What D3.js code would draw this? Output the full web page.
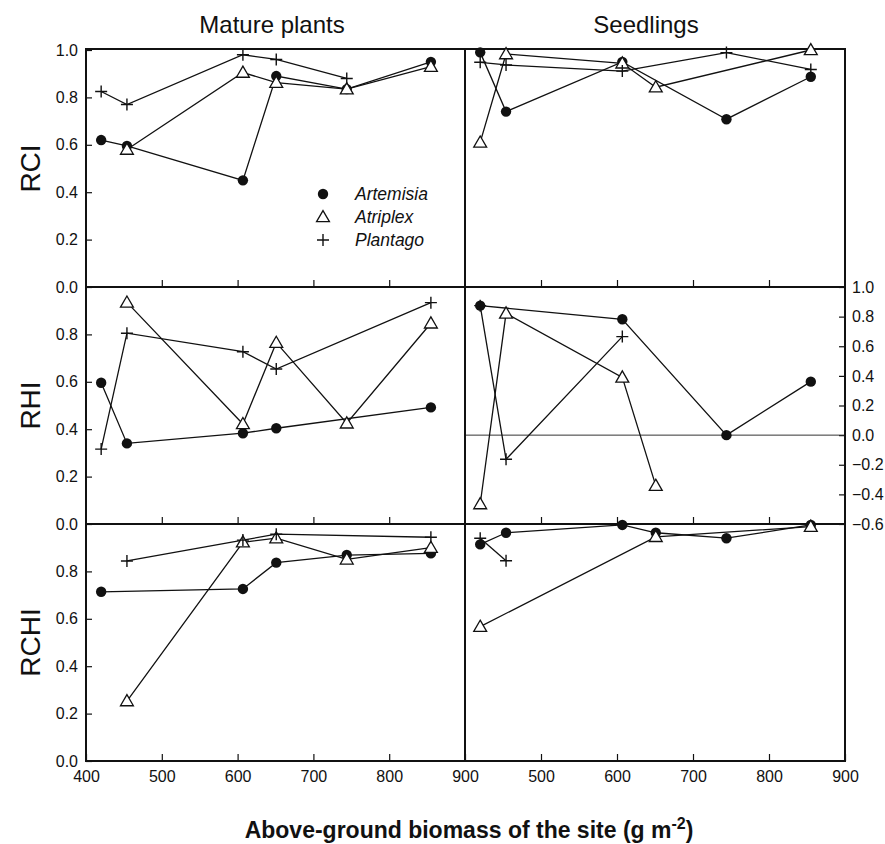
<!DOCTYPE html>
<html>
<head>
	<title>RCI, RHI, RCHI</title>
	<meta charset='utf-8'>
	<style>
		body {
			margin: 0;
			background: #fff;
		}

		svg text {
			font-family: 'Liberation Sans', Arial, sans-serif;
			fill: #111;
		}

		.frame {
			fill: none;
			stroke: #111;
			stroke-width: 2px;
		}

		.zero-line {
			stroke: #333;
			stroke-width: 1px;
		}

		.series {
			fill: none;
			stroke: #111;
			stroke-width: 1.3px;
		}

		.tick > line {
			stroke: #111;
			stroke-width: 1.2px;
		}

		.tick > text {
			font-size: 16px;
		}

		.axis__x .tick > text {
			font-size: 16px;
		}

		.axis path.domain {
			stroke-width: 0;
		}

		.m-circle {
			fill: #111;
		}

		.m-triangle {
			fill: #fff;
			stroke: #111;
			stroke-width: 1.3px;
		}

		.m-plus {
			fill: none;
			stroke: #111;
			stroke-width: 1.4px;
		}
	</style>
</head>
<body>
<div id="chart"></div>
<script src='https://cdnjs.cloudflare.com/ajax/libs/d3/7.8.5/d3.min.js'></script>
<script>
	'use strict';

	// site biomass, g m-2 (same six sites in every panel)
	const sites = [420, 454, 607, 651, 744, 855];
	const speciesNames = ['Artemisia', 'Atriplex', 'Plantago'];

	// RCI
	const rciMatureArtemisia = [0.62, 0.595, 0.45, 0.89, 0.835, 0.95];
	const rciMatureAtriplex = [null, 0.58, 0.905, 0.862, 0.835, 0.93];
	const rciMaturePlantago = [0.825, 0.77, 0.98, 0.96, 0.88, null];
	const rciSeedArtemisia = [0.99, 0.74, 0.95, null, 0.708, 0.887];
	const rciSeedAtriplex = [0.61, 0.983, 0.944, 0.843, null, 1.0];
	const rciSeedPlantago = [0.948, 0.937, 0.911, null, 0.989, 0.918];

	// RHI
	const rhiMatureArtemisia = [0.596, 0.34, 0.383, 0.404, null, 0.492];
	const rhiMatureAtriplex = [null, 0.935, 0.422, 0.765, 0.425, 0.847];
	const rhiMaturePlantago = [0.316, 0.805, 0.727, 0.654, null, 0.934];
	const rhiSeedArtemisia = [0.874, null, 0.782, null, 0.0, 0.361];
	const rhiSeedAtriplex = [-0.465, 0.822, 0.39, -0.341, null, null];
	const rhiSeedPlantago = [0.874, -0.163, 0.665, null, null, null];

	// RCHI
	const rchiMatureArtemisia = [0.714, null, 0.726, 0.837, 0.869, 0.876];
	const rchiMatureAtriplex = [null, 0.253, 0.923, 0.94, 0.851, 0.9];
	const rchiMaturePlantago = [null, 0.844, 0.932, 0.957, null, 0.944];
	const rchiSeedArtemisia = [0.914, 0.963, 0.996, 0.963, 0.94, 0.996];
	const rchiSeedAtriplex = [0.567, null, null, 0.946, null, 0.989];
	const rchiSeedPlantago = [0.94, 0.845, null, null, null, null];

	const leftTicks = [0, 0.2, 0.4, 0.6, 0.8];
	const rightTicks = [-0.6, -0.4, -0.2, 0, 0.2, 0.4, 0.6, 0.8, 1.0];
	const xTicks = [400, 500, 600, 700, 800, 900];

	const rowTitles = ['RCI', 'RHI', 'RCHI'];
	const columnTitles = ['Mature plants', 'Seedlings'];

	const width = 885;
	const height = 844;
	const plotLeft = 86;
	const plotMid = 465;
	const plotRight = 845;
	const rowTops = [50, 287, 524];
	const rowHeight = 237;

	const svg = d3.select('div#chart').append('svg')
		.attr('width', width)
		.attr('height', height);

	const xScales = [
		d3.scaleLinear().domain([400, 900]).range([plotLeft, plotMid]),
		d3.scaleLinear().domain([400, 900]).range([plotMid, plotRight])
	];

	const panels = [
		{row: 0, col: 0, domain: [0, 1], series: [rciMatureArtemisia, rciMatureAtriplex, rciMaturePlantago]},
		{row: 0, col: 1, domain: [0, 1], series: [rciSeedArtemisia, rciSeedAtriplex, rciSeedPlantago]},
		{row: 1, col: 0, domain: [0, 1], series: [rhiMatureArtemisia, rhiMatureAtriplex, rhiMaturePlantago]},
		{row: 1, col: 1, domain: [-0.6, 1], series: [rhiSeedArtemisia, rhiSeedAtriplex, rhiSeedPlantago]},
		{row: 2, col: 0, domain: [0, 1], series: [rchiMatureArtemisia, rchiMatureAtriplex, rchiMaturePlantago]},
		{row: 2, col: 1, domain: [0, 1], series: [rchiSeedArtemisia, rchiSeedAtriplex, rchiSeedPlantago]}
	];

	const triangle = d3.symbol().type(d3.symbolTriangle).size(72);

	function drawMarker(g, kind, x, y) {
		if (kind === 0) {
			g.append('circle').attr('class', 'm-circle')
				.attr('cx', x).attr('cy', y).attr('r', 5.2);
		} else if (kind === 1) {
			g.append('path').attr('class', 'm-triangle')
				.attr('transform', 'translate(' + x + ',' + (y + 1) + ')')
				.attr('d', triangle);
		} else {
			g.append('path').attr('class', 'm-plus')
				.attr('d', 'M' + (x - 6) + ',' + y + 'H' + (x + 6) + 'M' + x + ',' + (y - 6) + 'V' + (y + 6));
		}
	}

	// y axes on the left (one per row)
	rowTitles.forEach((title, row) => {
		const y = d3.scaleLinear().domain([0, 1]).range([rowTops[row] + rowHeight, rowTops[row]]);
		const ticks = row === 0 ? leftTicks.concat([1.0]) : leftTicks;
		svg.append('g')
			.attr('class', 'axis axis__y')
			.attr('transform', 'translate(' + plotLeft + ',0)')
			.call(d3.axisLeft(y).tickValues(ticks).tickSize(-6).tickPadding(8).tickFormat(d3.format('.1f')));

		svg.append('text')
			.attr('transform', 'translate(30,' + (rowTops[row] + rowHeight / 2) + ') rotate(-90)')
			.attr('text-anchor', 'middle')
			.attr('dominant-baseline', 'central')
			.style('font-size', '28px')
			.text(title);

		// x ticks at the bottom of every row, labels only on the last one
		xScales.forEach((x, col) => {
			const isLast = row === 2;
			const vals = isLast ? (col === 0 ? xTicks : xTicks.slice(1)) : xTicks.slice(1, 5);
			svg.append('g')
				.attr('class', 'axis axis__x')
				.attr('transform', 'translate(0,' + (rowTops[row] + rowHeight) + ')')
				.call(d3.axisBottom(x).tickValues(vals).tickSize(-7).tickPadding(10)
					.tickFormat(isLast ? d3.format('d') : ''));
		});
	});

	// right axis for RHI seedlings
	const yRhiSeed = d3.scaleLinear().domain([-0.6, 1]).range([rowTops[1] + rowHeight, rowTops[1]]);
	svg.append('g')
		.attr('class', 'axis axis__y2')
		.attr('transform', 'translate(' + plotRight + ',0)')
		.call(d3.axisRight(yRhiSeed).tickValues(rightTicks).tickSize(-6).tickPadding(7).tickFormat(d3.format('.1f')));

	svg.append('line')
		.attr('class', 'zero-line')
		.attr('x1', plotMid).attr('x2', plotRight)
		.attr('y1', yRhiSeed(0)).attr('y2', yRhiSeed(0));

	// frame
	svg.append('rect')
		.attr('class', 'frame')
		.attr('x', plotLeft).attr('y', rowTops[0] - 1)
		.attr('width', plotRight - plotLeft).attr('height', rowHeight * 3 + 1);
	[rowTops[1], rowTops[2]].forEach((y) => {
		svg.append('line').attr('class', 'frame')
			.attr('x1', plotLeft).attr('x2', plotRight).attr('y1', y).attr('y2', y);
	});
	svg.append('line').attr('class', 'frame')
		.attr('x1', plotMid).attr('x2', plotMid).attr('y1', rowTops[0] - 1).attr('y2', rowTops[2] + rowHeight);

	// lines and markers
	panels.forEach((p) => {
		const x = xScales[p.col];
		const y = d3.scaleLinear().domain(p.domain).range([rowTops[p.row] + rowHeight, rowTops[p.row]]);
		const line = d3.line()
			.x(function(d) {return x(d.site);})
			.y(function(d) {return y(d.value);});
		const g = svg.append('g');

		const pointsBySeries = p.series.map((values) => values
			.map((v, i) => ({site: sites[i], value: v}))
			.filter((d) => d.value !== null));

		pointsBySeries.forEach((pts) => {
			g.append('path').datum(pts).attr('class', 'series').attr('d', line);
		});
		pointsBySeries.forEach((pts, kind) => {
			pts.forEach((d) => drawMarker(g, kind, x(d.site), y(d.value)));
		});
	});

	// legend
	const legend = svg.append('g');
	speciesNames.forEach((name, i) => {
		const ly = 194 + i * 23;
		drawMarker(legend, i, 323, ly);
		legend.append('text')
			.attr('x', 355).attr('y', ly)
			.attr('dominant-baseline', 'central')
			.style('font-size', '17.5px')
			.style('font-style', 'italic')
			.text(name);
	});

	// titles
	columnTitles.forEach((title, col) => {
		svg.append('text')
			.attr('x', col === 0 ? 272 : 646)
			.attr('y', 33)
			.attr('text-anchor', 'middle')
			.style('font-size', '24px')
			.text(title);
	});

	const xTitle = svg.append('text')
		.attr('x', 469)
		.attr('y', 838)
		.attr('text-anchor', 'middle')
		.style('font-size', '23px')
		.style('font-weight', 'bold');
	xTitle.append('tspan').text('Above-ground biomass of the site (g m');
	xTitle.append('tspan').attr('dy', -9).style('font-size', '16px').text('-2');
	xTitle.append('tspan').attr('dy', 9).text(')');
</script>
</body>
</html>
